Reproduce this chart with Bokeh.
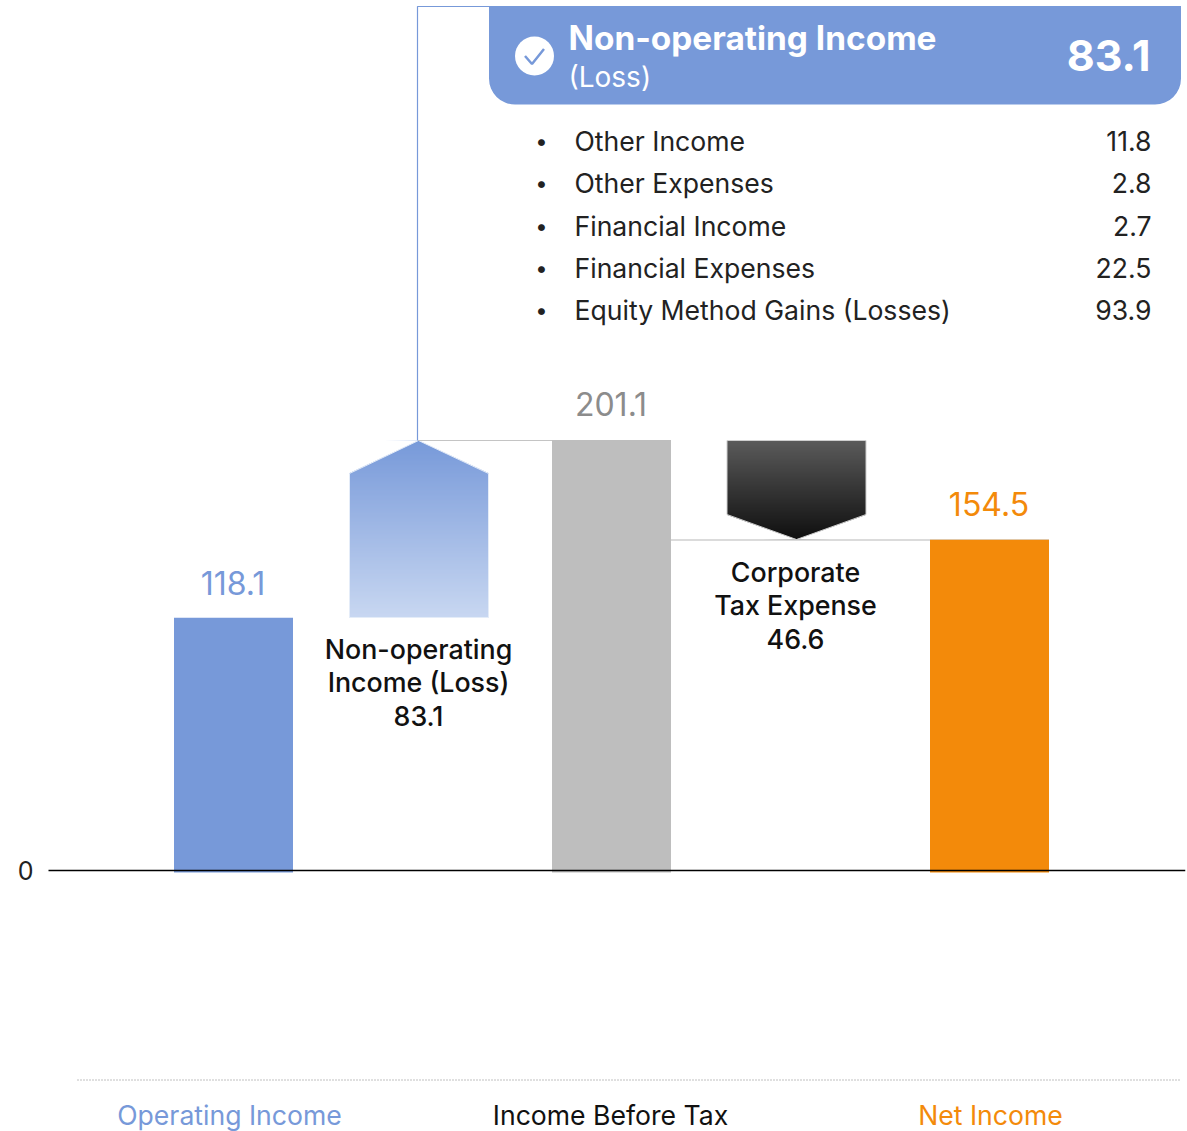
import numpy as np
from bokeh.plotting import figure
from bokeh.models import Range1d, LinearAxis, FixedTicker
from bokeh.core.properties import value
from bokeh.embed import file_html
from bokeh.resources import INLINE

# ---- data ----
categories = ["Operating Income", "Income Before Tax", "Net Income"]
totals = [118.1, 201.1, 154.5]
total_labels = ["118.1", "201.1", "154.5"]
bridge_labels = [["Non-operating", "Income (Loss)", "83.1"], ["Corporate", "Tax Expense", "46.6"]]
detail_names = ["Other Income", "Other Expenses", "Financial Income", "Financial Expenses", "Equity Method Gains (Losses)"]
detail_values = ["11.8", "2.8", "2.7", "22.5", "93.9"]
header_title = "Non-operating Income"
header_sub = "(Loss)"
header_value = "83.1"

# ---- style ----
BLUE, GREY, ORANGE = "#7799d9", "#bebebe", "#f38a0a"
FONT = value("Inter")
W, H = 1187, 1131
L, R = 48, 1185        # plot frame, px
OFF = 1                # the page paints the frame this far right of and below its nominal position
ZERO = 871.0
PX_PER_UNIT = 430.5 / 201.1
CAT0, CAT_STEP = 234.0, 378.0

p = figure(width=W, height=H, output_backend="svg", toolbar_location=None,
           x_range=Range1d((L + OFF - CAT0) / CAT_STEP, (R + OFF - CAT0) / CAT_STEP),
           y_range=Range1d((ZERO - H - OFF) / PX_PER_UNIT, (ZERO - OFF) / PX_PER_UNIT),
           x_axis_type=None, y_axis_type=None,
           min_border_left=L, min_border_right=W - R, min_border_top=0, min_border_bottom=0)
p.outline_line_color = None
p.xgrid.visible = False
p.ygrid.visible = False
p.extra_x_ranges["px"] = Range1d(L + OFF, R + OFF)
p.extra_y_ranges["px"] = Range1d(H + OFF, OFF)

yaxis = LinearAxis(ticker=FixedTicker(ticks=[0]), axis_line_color=None,
                   major_tick_line_color=None, minor_tick_line_color=None,
                   major_label_text_font="Inter", major_label_text_font_size="25px",
                   major_label_text_color="#222222", major_label_standoff=9)
p.add_layout(yaxis, "left")

PX = dict(x_range_name="px", y_range_name="px")

def lerp(c0, c1, t):
    a = [int(c0[i:i+2], 16) for i in (1, 3, 5)]
    b = [int(c1[i:i+2], 16) for i in (1, 3, 5)]
    return "#%02x%02x%02x" % tuple(round(u + (v - u) * t) for u, v in zip(a, b))

def arrow(x0, x1, y_top, y_bottom, shoulder, tip, c_top, c_bottom, c_line, up):
    """gradient pentagon in px: strips, then white corner masks, then outline."""
    n = int(y_bottom - y_top)
    edges = np.arange(y_top, y_bottom + 1.0)
    ts = [(i + 0.5) / n for i in range(n)]
    cols = [lerp(c_top, c_bottom, t) for t in ts]
    p.quad(left=x0, right=x1, top=edges[:-1], bottom=edges[1:] + 0.6, fill_color=cols,
           line_color=None, **PX)
    if up:
        xs = [[x0 - 1, tip, x0 - 1], [x1 + 1, tip, x1 + 1]]
        ys = [[shoulder, y_top, y_top - 1], [shoulder, y_top, y_top - 1]]
        ox, oy = [x0, tip, x1, x1, x0], [shoulder, y_top, shoulder, y_bottom, y_bottom]
    else:
        xs = [[x0 - 1, tip, x0 - 1], [x1 + 1, tip, x1 + 1]]
        ys = [[shoulder, y_bottom, y_bottom + 1], [shoulder, y_bottom, y_bottom + 1]]
        ox, oy = [x0, x1, x1, tip, x0], [y_top, y_top, shoulder, y_bottom, shoulder]
    p.patches(xs, ys, fill_color="white", line_color=None, **PX)
    p.patch(ox, oy, fill_color=None, line_color=c_line, line_width=1, **PX)

arrow(350, 489, 441, 618, 474, 419, "#7799d9", "#c8d7f1", "#e4ecf8", True)
arrow(727.5, 866.5, 441, 540, 515, 797, "#5b5b5b", "#0f0f0f", "#cfcfcf", False)

# connectors
p.line([418.5, 552.5], [441, 441], line_color="#c4c4c4", line_width=1.2, **PX)
p.line([671.5, 1049.5], [540.5, 540.5], line_color="#cfcfcf", line_width=1.5, **PX)
p.line([418, 418, 1181.5], [441, 7, 7], line_color=BLUE, line_width=1.2, **PX)
p.line([77.5, 1180.5], [1080.5, 1080.5], line_color="#c0c0c0", line_width=1, line_dash="2 1", **PX)

# bars
p.vbar(x=list(range(3)), top=totals, bottom=-2 / PX_PER_UNIT, width=119 / CAT_STEP,
       fill_color=[BLUE, GREY, ORANGE], line_color=None)
# zero line
p.line([L, R + 1], [ZERO, ZERO], line_color="#000000", line_width=1.3, **PX)

# bar labels
tx = [233.5 + i * CAT_STEP for i in range(3)]
p.text(tx, [583, 404, 504], text=total_labels, text_color=[BLUE, "#8c8c8c", ORANGE],
       text_font=FONT, text_font_size="32px", text_align="center", text_baseline="middle", **PX)
# category labels
p.text([230, 611, 991], [1115, 1115, 1115], text=categories, text_color=[BLUE, "#111111", ORANGE],
       text_font=FONT, text_font_size="26.6px", text_align="center", text_baseline="middle", **PX)

# bridge labels
for cx, y0, lines in zip([419, 796], [649, 572], bridge_labels):
    p.text([cx] * 3, [y0, y0 + 33, y0 + 67], text=lines, text_color="#111111", text_font=value("Inter Medium"),
           text_font_size="26.8px", text_align="center", text_baseline="middle", **PX)

# header box
p.quad(left=[489.5], right=[1181.5], top=[7], bottom=[105], fill_color=BLUE, line_color=None,
       border_radius=(0, 0, 26, 26), **PX)
p.scatter([535], [56.5], size=39, marker="circle", fill_color="white", line_color=None, **PX)
p.line([525.5, 532.5, 544.5], [56.5, 64.5, 49.5], line_color=BLUE, line_width=2.5, **PX)
p.text([569], [38], text=[header_title], text_color="white", text_font=FONT, text_font_size="33.4px",
       text_font_style="bold", text_baseline="middle", **PX)
p.text([569], [77], text=[header_sub], text_color="white", text_font=FONT, text_font_size="28px",
       text_baseline="middle", **PX)
p.text([1151], [56], text=[header_value], text_color="white", text_font=FONT, text_font_size="43px",
       text_font_style="bold", text_align="right", text_baseline="middle", **PX)

# detail list
dy = [141, 183, 226, 268, 310]
p.text([542] * 5, dy, text=["•"] * 5, text_color="#222222", text_font=FONT, text_font_size="22px",
       text_align="center", text_baseline="middle", **PX)
p.text([575] * 5, dy, text=detail_names, text_color="#222222", text_font=FONT, text_font_size="26.6px",
       text_baseline="middle", **PX)
p.text([1152] * 5, dy, text=detail_values, text_color="#222222", text_font=FONT, text_font_size="26.6px",
       text_align="right", text_baseline="middle", **PX)

open("out.html", "w").write(file_html(p, INLINE))
